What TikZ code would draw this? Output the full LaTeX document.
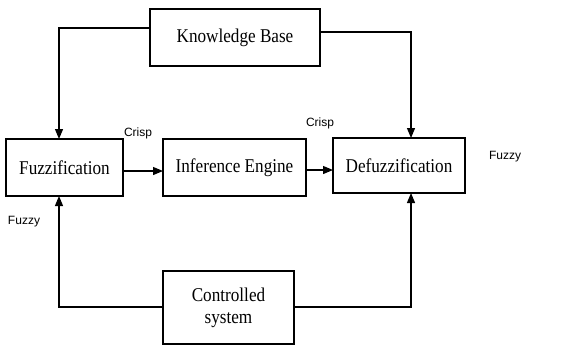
\documentclass[tikz,border=0pt]{standalone}
\usepackage{fontspec}
\setmainfont{Liberation Serif}
\newfontfamily\boxfont[FakeStretch=0.88]{Liberation Serif}
\newfontfamily\lblfont{Liberation Sans}
\usetikzlibrary{arrows.meta}
\begin{document}
\begin{tikzpicture}[x=1pt,y=-1pt,
  blk/.style={draw,line width=1.2pt,inner sep=0pt,align=center,font=\boxfont\fontsize{19.5}{22}\selectfont},
  conn/.style={line width=1.2pt},
  arr/.style={conn,-{Triangle[length=10pt,width=8pt]}},
  lbl/.style={font=\lblfont\fontsize{12}{14}\selectfont,inner sep=0pt}]
\useasboundingbox (0,0) rectangle (569,345);
\node[blk,minimum width=170pt,minimum height=57pt] (KB) at (235,37.5) {Knowledge Base};
\node[blk,minimum width=117pt,minimum height=57pt] (FZ) at (64.5,167.5) {Fuzzification};
\node[blk,minimum width=143pt,minimum height=57pt] (IE) at (234.5,167.5) {Inference Engine};
\node[blk,minimum width=132pt,minimum height=55pt] (DF) at (399,165.5) {Defuzzification};
\node[blk,minimum width=131pt,minimum height=73pt] (CS) at (228.5,307.5) {Controlled\\system};
\coordinate (kbl) at (150,28);
\coordinate (kbr) at (320,32);
\coordinate (csl) at (163,307);
\coordinate (csr) at (294,307);
\coordinate (fzt) at (59,139);
\coordinate (fzb) at (59,196);
\coordinate (dft) at (411,138);
\coordinate (dfb) at (411,193);
\coordinate (fze) at (123,171);
\coordinate (iew) at (163,171);
\coordinate (iee) at (306,170);
\coordinate (dfw) at (333,170);
\draw[arr] (kbl) -| (fzt);
\draw[arr] (kbr) -| (dft);
\draw[arr] (csl) -| (fzb);
\draw[arr] (csr) -| (dfb);
\draw[arr] (fze) -- (iew);
\draw[arr] (iee) -- (dfw);
\node[lbl] (c1) at (138,133) {Crisp};
\node[lbl] (c2) at (320,123) {Crisp};
\node[lbl] (f1) at (505,157) {Fuzzy};
\node[lbl] (f2) at (24,222) {Fuzzy};
\end{tikzpicture}
\end{document}
